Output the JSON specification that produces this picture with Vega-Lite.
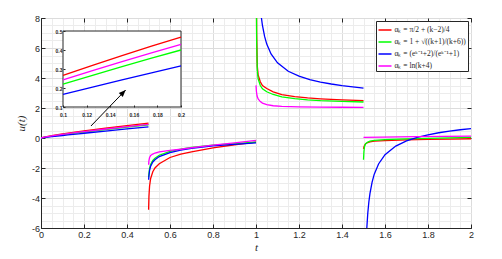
{
  "$schema": "https://vega.github.io/schema/vega-lite/v6.json",
  "width": 430,
  "height": 210,
  "autosize": {"type": "none"},
  "padding": {"left": 41, "top": 18, "right": 31, "bottom": 31},
  "background": "white",
  "config": {
    "view": {"stroke": "#262626", "strokeWidth": 1},
    "axis": {
      "labelFont": "Liberation Sans",
      "labelFontSize": 9,
      "labelColor": "#262626",
      "tickColor": "#262626",
      "domainColor": "#262626",
      "titleFont": "Liberation Serif",
      "titleFontStyle": "italic",
      "titleFontWeight": "normal",
      "titleFontSize": 11,
      "titleColor": "#262626",
      "labelOverlap": false
    }
  },
  "datasets": {
    "one": [{}],
    "curves": [
      {"s":"r","seg":1,"t":0,"u":0},{"s":"r","seg":1,"t":0.01,"u":0.041},{"s":"r","seg":1,"t":0.05,"u":0.151},{"s":"r","seg":1,"t":0.1,"u":0.266},{"s":"r","seg":1,"t":0.125,"u":0.319},{"s":"r","seg":1,"t":0.15,"u":0.370},{"s":"r","seg":1,"t":0.175,"u":0.420},{"s":"r","seg":1,"t":0.2,"u":0.468},{"s":"r","seg":1,"t":0.3,"u":0.651},{"s":"r","seg":1,"t":0.4,"u":0.823},{"s":"r","seg":1,"t":0.5,"u":0.987},
      {"s":"r","seg":2,"t":0.5005,"u":-4.78},{"s":"r","seg":2,"t":0.502,"u":-3.9},{"s":"r","seg":2,"t":0.505,"u":-3.2},{"s":"r","seg":2,"t":0.51,"u":-2.7},{"s":"r","seg":2,"t":0.52,"u":-2.25},{"s":"r","seg":2,"t":0.53,"u":-2.0},{"s":"r","seg":2,"t":0.55,"u":-1.72},{"s":"r","seg":2,"t":0.6,"u":-1.3},{"s":"r","seg":2,"t":0.65,"u":-1.08},{"s":"r","seg":2,"t":0.7,"u":-0.92},{"s":"r","seg":2,"t":0.8,"u":-0.66},{"s":"r","seg":2,"t":0.9,"u":-0.45},{"s":"r","seg":2,"t":1.0,"u":-0.27},
      {"s":"r","seg":3,"t":1.001,"u":12},{"s":"r","seg":3,"t":1.003,"u":7},{"s":"r","seg":3,"t":1.006,"u":4.8},{"s":"r","seg":3,"t":1.01,"u":4.2},{"s":"r","seg":3,"t":1.02,"u":3.75},{"s":"r","seg":3,"t":1.03,"u":3.5},{"s":"r","seg":3,"t":1.05,"u":3.3},{"s":"r","seg":3,"t":1.08,"u":3.08},{"s":"r","seg":3,"t":1.12,"u":2.89},{"s":"r","seg":3,"t":1.18,"u":2.76},{"s":"r","seg":3,"t":1.24,"u":2.67},{"s":"r","seg":3,"t":1.3,"u":2.61},{"s":"r","seg":3,"t":1.4,"u":2.54},{"s":"r","seg":3,"t":1.5,"u":2.49},
      {"s":"r","seg":4,"t":1.5,"u":-0.73},{"s":"r","seg":4,"t":1.502,"u":-0.6},{"s":"r","seg":4,"t":1.505,"u":-0.48},{"s":"r","seg":4,"t":1.51,"u":-0.38},{"s":"r","seg":4,"t":1.52,"u":-0.3},{"s":"r","seg":4,"t":1.53,"u":-0.26},{"s":"r","seg":4,"t":1.55,"u":-0.21},{"s":"r","seg":4,"t":1.6,"u":-0.17},{"s":"r","seg":4,"t":1.7,"u":-0.12},{"s":"r","seg":4,"t":1.8,"u":-0.09},{"s":"r","seg":4,"t":1.9,"u":-0.07},{"s":"r","seg":4,"t":2.0,"u":-0.05},

      {"s":"g","seg":1,"t":0,"u":0},{"s":"g","seg":1,"t":0.01,"u":0.030},{"s":"g","seg":1,"t":0.05,"u":0.121},{"s":"g","seg":1,"t":0.1,"u":0.220},{"s":"g","seg":1,"t":0.125,"u":0.267},{"s":"g","seg":1,"t":0.15,"u":0.312},{"s":"g","seg":1,"t":0.175,"u":0.357},{"s":"g","seg":1,"t":0.2,"u":0.400},{"s":"g","seg":1,"t":0.3,"u":0.568},{"s":"g","seg":1,"t":0.4,"u":0.729},{"s":"g","seg":1,"t":0.5,"u":0.883},
      {"s":"g","seg":2,"t":0.5005,"u":-2.62},{"s":"g","seg":2,"t":0.502,"u":-2.38},{"s":"g","seg":2,"t":0.505,"u":-2.03},{"s":"g","seg":2,"t":0.51,"u":-1.77},{"s":"g","seg":2,"t":0.52,"u":-1.5},{"s":"g","seg":2,"t":0.53,"u":-1.35},{"s":"g","seg":2,"t":0.55,"u":-1.15},{"s":"g","seg":2,"t":0.6,"u":-0.89},{"s":"g","seg":2,"t":0.65,"u":-0.74},{"s":"g","seg":2,"t":0.7,"u":-0.63},{"s":"g","seg":2,"t":0.8,"u":-0.48},{"s":"g","seg":2,"t":0.9,"u":-0.37},{"s":"g","seg":2,"t":1.0,"u":-0.28},
      {"s":"g","seg":3,"t":1.001,"u":12},{"s":"g","seg":3,"t":1.003,"u":6.5},{"s":"g","seg":3,"t":1.006,"u":4.5},{"s":"g","seg":3,"t":1.01,"u":3.95},{"s":"g","seg":3,"t":1.02,"u":3.5},{"s":"g","seg":3,"t":1.03,"u":3.28},{"s":"g","seg":3,"t":1.05,"u":3.08},{"s":"g","seg":3,"t":1.08,"u":2.9},{"s":"g","seg":3,"t":1.12,"u":2.74},{"s":"g","seg":3,"t":1.18,"u":2.62},{"s":"g","seg":3,"t":1.24,"u":2.54},{"s":"g","seg":3,"t":1.3,"u":2.49},{"s":"g","seg":3,"t":1.4,"u":2.44},{"s":"g","seg":3,"t":1.5,"u":2.4},
      {"s":"g","seg":4,"t":1.5,"u":-1.45},{"s":"g","seg":4,"t":1.502,"u":-0.9},{"s":"g","seg":4,"t":1.505,"u":-0.55},{"s":"g","seg":4,"t":1.51,"u":-0.38},{"s":"g","seg":4,"t":1.52,"u":-0.27},{"s":"g","seg":4,"t":1.53,"u":-0.21},{"s":"g","seg":4,"t":1.55,"u":-0.16},{"s":"g","seg":4,"t":1.6,"u":-0.11},{"s":"g","seg":4,"t":1.7,"u":-0.06},{"s":"g","seg":4,"t":1.8,"u":-0.02},{"s":"g","seg":4,"t":1.9,"u":0.01},{"s":"g","seg":4,"t":2.0,"u":0.04},

      {"s":"b","seg":1,"t":0,"u":0},{"s":"b","seg":1,"t":0.01,"u":0.020},{"s":"b","seg":1,"t":0.05,"u":0.088},{"s":"b","seg":1,"t":0.1,"u":0.167},{"s":"b","seg":1,"t":0.125,"u":0.205},{"s":"b","seg":1,"t":0.15,"u":0.243},{"s":"b","seg":1,"t":0.175,"u":0.280},{"s":"b","seg":1,"t":0.2,"u":0.317},{"s":"b","seg":1,"t":0.3,"u":0.461},{"s":"b","seg":1,"t":0.4,"u":0.602},{"s":"b","seg":1,"t":0.5,"u":0.741},
      {"s":"b","seg":2,"t":0.5005,"u":-2.78},{"s":"b","seg":2,"t":0.502,"u":-2.52},{"s":"b","seg":2,"t":0.505,"u":-2.15},{"s":"b","seg":2,"t":0.51,"u":-1.88},{"s":"b","seg":2,"t":0.52,"u":-1.6},{"s":"b","seg":2,"t":0.53,"u":-1.45},{"s":"b","seg":2,"t":0.55,"u":-1.24},{"s":"b","seg":2,"t":0.6,"u":-0.97},{"s":"b","seg":2,"t":0.65,"u":-0.81},{"s":"b","seg":2,"t":0.7,"u":-0.69},{"s":"b","seg":2,"t":0.8,"u":-0.53},{"s":"b","seg":2,"t":0.9,"u":-0.42},{"s":"b","seg":2,"t":1.0,"u":-0.33},
      {"s":"b","seg":3,"t":1.02,"u":8.75},{"s":"b","seg":3,"t":1.025,"u":8.03},{"s":"b","seg":3,"t":1.03,"u":7.5},{"s":"b","seg":3,"t":1.04,"u":6.77},{"s":"b","seg":3,"t":1.05,"u":6.26},{"s":"b","seg":3,"t":1.07,"u":5.6},{"s":"b","seg":3,"t":1.1,"u":5.01},{"s":"b","seg":3,"t":1.15,"u":4.45},{"s":"b","seg":3,"t":1.2,"u":4.12},{"s":"b","seg":3,"t":1.25,"u":3.89},{"s":"b","seg":3,"t":1.3,"u":3.73},{"s":"b","seg":3,"t":1.35,"u":3.6},{"s":"b","seg":3,"t":1.4,"u":3.49},{"s":"b","seg":3,"t":1.45,"u":3.41},{"s":"b","seg":3,"t":1.5,"u":3.33},
      {"s":"b","seg":4,"t":1.51,"u":-7.91},{"s":"b","seg":4,"t":1.515,"u":-6.09},{"s":"b","seg":4,"t":1.52,"u":-5.0},{"s":"b","seg":4,"t":1.525,"u":-4.25},{"s":"b","seg":4,"t":1.53,"u":-3.71},{"s":"b","seg":4,"t":1.54,"u":-2.94},{"s":"b","seg":4,"t":1.55,"u":-2.41},{"s":"b","seg":4,"t":1.57,"u":-1.73},{"s":"b","seg":4,"t":1.6,"u":-1.11},{"s":"b","seg":4,"t":1.65,"u":-0.54},{"s":"b","seg":4,"t":1.7,"u":-0.19},{"s":"b","seg":4,"t":1.75,"u":0.04},{"s":"b","seg":4,"t":1.8,"u":0.21},{"s":"b","seg":4,"t":1.85,"u":0.35},{"s":"b","seg":4,"t":1.9,"u":0.46},{"s":"b","seg":4,"t":1.95,"u":0.55},{"s":"b","seg":4,"t":2.0,"u":0.62},

      {"s":"m","seg":1,"t":0,"u":0},{"s":"m","seg":1,"t":0.01,"u":0.037},{"s":"m","seg":1,"t":0.05,"u":0.137},{"s":"m","seg":1,"t":0.1,"u":0.243},{"s":"m","seg":1,"t":0.125,"u":0.292},{"s":"m","seg":1,"t":0.15,"u":0.339},{"s":"m","seg":1,"t":0.175,"u":0.385},{"s":"m","seg":1,"t":0.2,"u":0.430},{"s":"m","seg":1,"t":0.3,"u":0.600},{"s":"m","seg":1,"t":0.4,"u":0.760},{"s":"m","seg":1,"t":0.5,"u":0.913},
      {"s":"m","seg":2,"t":0.5005,"u":-1.78},{"s":"m","seg":2,"t":0.502,"u":-1.5},{"s":"m","seg":2,"t":0.505,"u":-1.3},{"s":"m","seg":2,"t":0.51,"u":-1.17},{"s":"m","seg":2,"t":0.52,"u":-1.07},{"s":"m","seg":2,"t":0.53,"u":-1.0},{"s":"m","seg":2,"t":0.55,"u":-0.92},{"s":"m","seg":2,"t":0.6,"u":-0.83},{"s":"m","seg":2,"t":0.65,"u":-0.75},{"s":"m","seg":2,"t":0.7,"u":-0.65},{"s":"m","seg":2,"t":0.8,"u":-0.48},{"s":"m","seg":2,"t":0.9,"u":-0.32},{"s":"m","seg":2,"t":1.0,"u":-0.16},
      {"s":"m","seg":3,"t":1.0,"u":3.51},{"s":"m","seg":3,"t":1.002,"u":3.1},{"s":"m","seg":3,"t":1.005,"u":2.8},{"s":"m","seg":3,"t":1.01,"u":2.6},{"s":"m","seg":3,"t":1.02,"u":2.43},{"s":"m","seg":3,"t":1.03,"u":2.33},{"s":"m","seg":3,"t":1.05,"u":2.22},{"s":"m","seg":3,"t":1.08,"u":2.15},{"s":"m","seg":3,"t":1.12,"u":2.11},{"s":"m","seg":3,"t":1.2,"u":2.08},{"s":"m","seg":3,"t":1.3,"u":2.06},{"s":"m","seg":3,"t":1.4,"u":2.05},{"s":"m","seg":3,"t":1.5,"u":2.04},
      {"s":"m","seg":4,"t":1.5,"u":0.04},{"s":"m","seg":4,"t":1.75,"u":0.085},{"s":"m","seg":4,"t":2.0,"u":0.13}
    ]
  },
  "layer": [
    {
      "layer": [
        {
          "data": {"name": "curves"},
          "mark": {"type": "line", "strokeWidth": 1.3, "clip": true},
          "encoding": {
            "x": {
              "field": "t", "type": "quantitative",
              "scale": {"domain": [0, 2], "nice": false, "zero": false},
              "axis": {
                "orient": "bottom",
                "title": "t",
                "titlePadding": 2,
                "values": [0,0.05,0.1,0.15,0.2,0.25,0.3,0.35,0.4,0.45,0.5,0.55,0.6,0.65,0.7,0.75,0.8,0.85,0.9,0.95,1,1.05,1.1,1.15,1.2,1.25,1.3,1.35,1.4,1.45,1.5,1.55,1.6,1.65,1.7,1.75,1.8,1.85,1.9,1.95,2],
                "labelExpr": "abs(datum.value*5 - round(datum.value*5)) < 0.001 ? '' + datum.value : ''",
                "grid": true,
                "gridColor": {"condition": {"test": "abs(datum.value*5 - round(datum.value*5)) < 0.001", "value": "#dcdcdc"}, "value": "#ececec"},
                "gridWidth": 1,
                "tickOpacity": {"condition": {"test": "abs(datum.value*5 - round(datum.value*5)) < 0.001", "value": 1}, "value": 0},
                "tickSize": -4,
                "labelPadding": 6,
                "labelFlush": false
              }
            },
            "y": {
              "field": "u", "type": "quantitative",
              "scale": {"domain": [-6, 8], "nice": false, "zero": false},
              "axis": {
                "orient": "left",
                "title": "u(t)",
                "titlePadding": 5,
                "values": [-6,-5.5,-5,-4.5,-4,-3.5,-3,-2.5,-2,-1.5,-1,-0.5,0,0.5,1,1.5,2,2.5,3,3.5,4,4.5,5,5.5,6,6.5,7,7.5,8],
                "labelExpr": "abs(datum.value/2 - round(datum.value/2)) < 0.001 ? '' + datum.value : ''",
                "grid": true,
                "gridColor": {"condition": {"test": "abs(datum.value/2 - round(datum.value/2)) < 0.001", "value": "#dcdcdc"}, "value": "#ececec"},
                "gridWidth": 1,
                "tickOpacity": {"condition": {"test": "abs(datum.value/2 - round(datum.value/2)) < 0.001", "value": 1}, "value": 0},
                "tickSize": -4,
                "labelPadding": 5.5,
                "labelFlush": false
              }
            },
            "color": {
              "field": "s", "type": "nominal",
              "scale": {"domain": ["r", "g", "b", "m"], "range": ["#ff0000", "#00ff00", "#0000ff", "#ff00ff"]},
              "legend": {
                "title": null,
                "orient": "top-right",
                "offset": 3,
                "fillColor": "white",
                "strokeColor": "#262626",
                "padding": 1.5,
                "labelFont": "Liberation Serif",
                "labelFontSize": 7.5,
                "labelColor": "#262626",
                "labelLimit": 300,
                "labelOffset": 2,
                "symbolType": "stroke",
                "symbolSize": 169,
                "symbolStrokeWidth": 1.5,
                "rowPadding": 1,
                "labelExpr": "datum.value == 'r' ? 'αₖ = π/2 + (k−2)/4' : datum.value == 'g' ? 'αₖ = 1 + √((k+1)/(k+6))' : datum.value == 'b' ? 'αₖ = (eᵏ⁻¹+2)/(eᵏ⁻¹+1)' : 'αₖ = ln(k+4)'"
              }
            },
            "detail": {"field": "seg", "type": "nominal"}
          }
        },
        {
          "data": {"name": "one"},
          "mark": {"type": "rule", "opacity": 0},
          "encoding": {
            "x": {
              "datum": 0, "type": "quantitative",
              "axis": {
                "orient": "top",
                "title": null,
                "values": [0,0.2,0.4,0.6,0.8,1,1.2,1.4,1.6,1.8,2],
                "labels": false,
                "grid": false,
                "domain": false,
                "tickSize": -4
              }
            },
            "y": {
              "datum": 0, "type": "quantitative",
              "axis": {
                "orient": "right",
                "title": null,
                "values": [-6,-4,-2,0,2,4,6,8],
                "labels": false,
                "grid": false,
                "domain": false,
                "tickSize": -4
              }
            }
          }
        }
      ],
      "resolve": {"axis": {"x": "independent", "y": "independent"}}
    },
    {
      "layer": [
        {
          "data": {"name": "one"},
          "mark": {"type": "rect", "fill": "white", "stroke": "#262626", "strokeWidth": 1},
          "encoding": {
            "x": {
              "datum": 0.1, "type": "quantitative",
              "scale": {"domain": [0.1, 0.2], "range": [22, 140], "nice": false, "zero": false},
              "axis": {
                "orient": "bottom",
                "offset": -121,
                "title": null,
                "values": [0.1, 0.12, 0.14, 0.16, 0.18, 0.2],
                "labelExpr": "'' + datum.value",
                "grid": false,
                "domain": false,
                "tickSize": -2,
                "labelPadding": 7.5,
                "labelFontSize": 5,
                "labelFontWeight": "bold",
                "labelFlush": false,
                "zindex": 1
              }
            },
            "x2": {"datum": 0.2},
            "y": {
              "datum": 0.1, "type": "quantitative",
              "scale": {"domain": [0.1, 0.5], "range": [89, 13], "nice": false, "zero": false},
              "axis": {
                "orient": "left",
                "offset": -22,
                "title": null,
                "values": [0.1, 0.2, 0.3, 0.4, 0.5],
                "labelExpr": "'' + datum.value",
                "grid": false,
                "domain": false,
                "tickSize": -2,
                "labelPadding": 3,
                "labelFontSize": 5,
                "labelFontWeight": "bold",
                "labelFlush": false,
                "zindex": 1
              }
            },
            "y2": {"datum": 0.5}
          }
        },
        {
          "data": {"name": "curves"},
          "transform": [{"filter": "datum.seg == 1 && datum.t >= 0.1 && datum.t <= 0.2"}],
          "mark": {"type": "line", "strokeWidth": 1.3},
          "encoding": {
            "x": {"field": "t", "type": "quantitative"},
            "y": {"field": "u", "type": "quantitative"},
            "color": {"field": "s", "type": "nominal"}
          }
        },
        {
          "data": {"name": "one"},
          "mark": {"type": "rule", "color": "black", "strokeWidth": 1},
          "encoding": {
            "x": {"datum": 0.1237, "type": "quantitative"},
            "y": {"datum": 0.0, "type": "quantitative"},
            "x2": {"datum": 0.1531},
            "y2": {"datum": 0.1895}
          }
        },
        {
          "data": {"name": "one"},
          "mark": {"type": "point", "shape": "M0,0L-0.4,1L0.4,1Z", "filled": true, "color": "black", "opacity": 1, "size": 196, "angle": 44},
          "encoding": {
            "x": {"datum": 0.1531, "type": "quantitative"},
            "y": {"datum": 0.1895, "type": "quantitative"}
          }
        }
      ]
    }
  ],
  "resolve": {
    "scale": {"x": "independent", "y": "independent", "color": "shared"},
    "axis": {"x": "independent", "y": "independent"}
  }
}
